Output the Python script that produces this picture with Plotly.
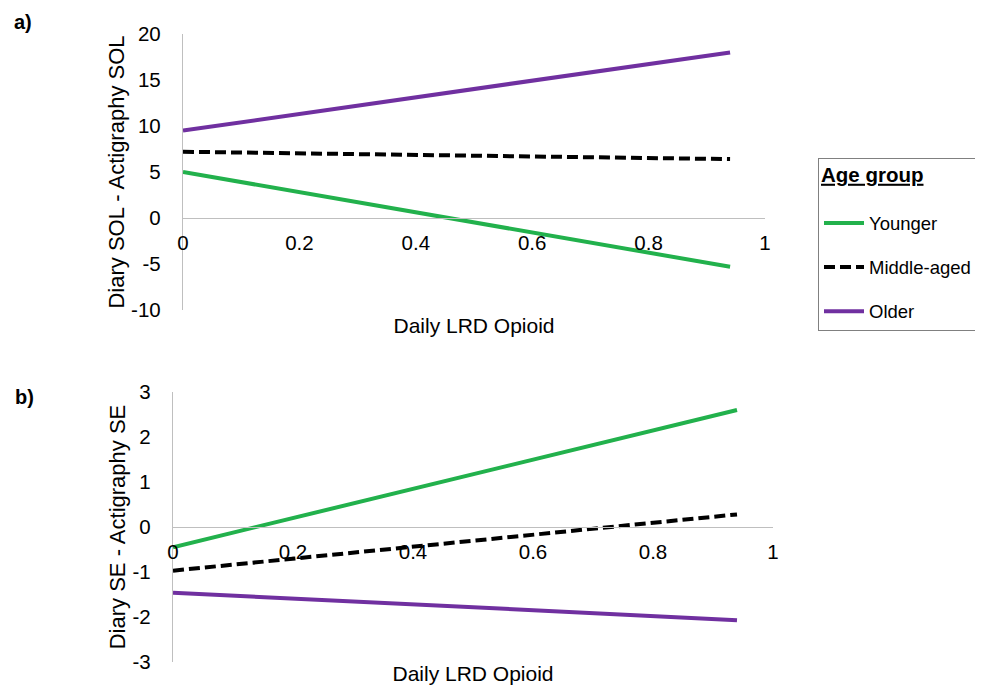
import plotly.graph_objects as go

# ---- data ----
x_vals = [0, 0.94]
groups = ["Younger", "Middle-aged", "Older"]
sol_younger = [5.0, -5.3]
sol_middle = [7.2, 6.4]
sol_older = [9.5, 18.0]
se_younger = [-0.45, 2.6]
se_middle = [-0.97, 0.28]
se_older = [-1.46, -2.07]

x_ticks = [0, 0.2, 0.4, 0.6, 0.8, 1]
x_ticktext = ["0", "0.2", "0.4", "0.6", "0.8", "1"]
sol_ticks = [-10, -5, 0, 5, 10, 15, 20]
sol_ticktext = ["-10", "-5", "0", "5", "10", "15", "20"]
se_ticks = [-3, -2, -1, 0, 1, 2, 3]
se_ticktext = ["-3", "-2", "-1", "0", "1", "2", "3"]

colors = {"Younger": "#22B14C", "Middle-aged": "#000000", "Older": "#7030A0"}
dashes = {"Younger": "solid", "Middle-aged": "11px,5px", "Older": "solid"}

W, H = 983, 692
OFF = 8  # page body margin offset
FONT = "Liberation Sans, Arial, sans-serif"

fig = go.Figure()

sol = {"Younger": sol_younger, "Middle-aged": sol_middle, "Older": sol_older}
se = {"Younger": se_younger, "Middle-aged": se_middle, "Older": se_older}

for g in groups:
    fig.add_trace(go.Scatter(x=x_vals, y=sol[g], mode="lines", name=g,
                             legendgroup=g, showlegend=True,
                             line=dict(color=colors[g], width=4, dash=dashes[g]),
                             xaxis="x", yaxis="y"))
for g in groups:
    fig.add_trace(go.Scatter(x=x_vals, y=se[g], mode="lines", name=g,
                             legendgroup=g, showlegend=False,
                             line=dict(color=colors[g], width=4, dash=dashes[g]),
                             xaxis="x2", yaxis="y2"))

# pixel -> paper helpers (accounting for page offset)
def px(a):
    return (a - OFF) / W

def py(b):
    return 1 - (b - OFF) / H

def xd(a, b):
    return [px(a), px(b)]

def yd(top, bottom):
    return [py(bottom), py(top)]

y1_dom = yd(34, 310)
y2_dom = yd(392, 662)
y1_range = [-10, 20]
y2_range = [-3, 3]
x1_pos = y1_dom[0] + (0 - y1_range[0]) / (y1_range[1] - y1_range[0]) * (y1_dom[1] - y1_dom[0])
x2_pos = y2_dom[0] + (0 - y2_range[0]) / (y2_range[1] - y2_range[0]) * (y2_dom[1] - y2_dom[0])

tick_font = dict(family=FONT, size=20.5, color="#000000")
xtitle_font = dict(family=FONT, size=21, color="#000000")
ytitle_font = dict(family=FONT, size=22, color="#000000")
gray = "#BFBFBF"

xcommon = dict(range=[0, 1], tickvals=x_ticks, ticktext=x_ticktext, showgrid=False,
               zeroline=False, showline=True, linecolor=gray, linewidth=1.3,
               ticks="", tickfont=tick_font, ticklabelstandoff=6,
               anchor="free", automargin=False, fixedrange=True)
ycommon = dict(showgrid=False, zeroline=False, showline=True, linecolor=gray,
               linewidth=1.3, ticks="", tickfont=tick_font, ticklabelstandoff=17,
               automargin=False, fixedrange=True)

legend_title = "<b><u><span style='font-size:20.5px'>Age group</span></u></b><br>\u00a0"

fig.update_layout(
    width=W, height=H,
    margin=dict(l=0, r=0, t=0, b=0, autoexpand=False),
    paper_bgcolor="white", plot_bgcolor="white",
    font=dict(family=FONT, color="#000000"),
    xaxis=dict(domain=xd(183, 765), position=x1_pos,
               title=dict(text="Daily LRD Opioid", font=xtitle_font, standoff=65),
               **xcommon),
    yaxis=dict(domain=y1_dom, range=y1_range, tickvals=sol_ticks, ticktext=sol_ticktext,
               anchor="x",
               title=dict(text="Diary SOL - Actigraphy SOL", font=ytitle_font, standoff=0),
               **ycommon),
    xaxis2=dict(domain=xd(173, 773), position=x2_pos,
                title=dict(text="Daily LRD Opioid", font=xtitle_font, standoff=104),
                **xcommon),
    yaxis2=dict(domain=y2_dom, range=y2_range, tickvals=se_ticks, ticktext=se_ticktext,
                anchor="x2",
                title=dict(text="Diary SE - Actigraphy SE", font=ytitle_font, standoff=0),
                **ycommon),
    legend=dict(x=px(818), y=py(158), xanchor="left", yanchor="top",
                bordercolor="#808080", borderwidth=1, bgcolor="white",
                font=dict(family=FONT, size=18.5, color="#000000"),
                title=dict(text=legend_title,
                           font=dict(family=FONT, size=17.5, color="#000000")),
                tracegroupgap=17, itemwidth=40),
    annotations=[
        dict(text="<b>a)</b>", x=px(12), y=py(22), xref="paper", yref="paper",
             xanchor="left", yanchor="middle", showarrow=False,
             font=dict(family=FONT, size=20, color="#000000")),
        dict(text="<b>b)</b>", x=px(13), y=py(397), xref="paper", yref="paper",
             xanchor="left", yanchor="middle", showarrow=False,
             font=dict(family=FONT, size=20, color="#000000")),
    ],
)

fig.write_html("out.html")
